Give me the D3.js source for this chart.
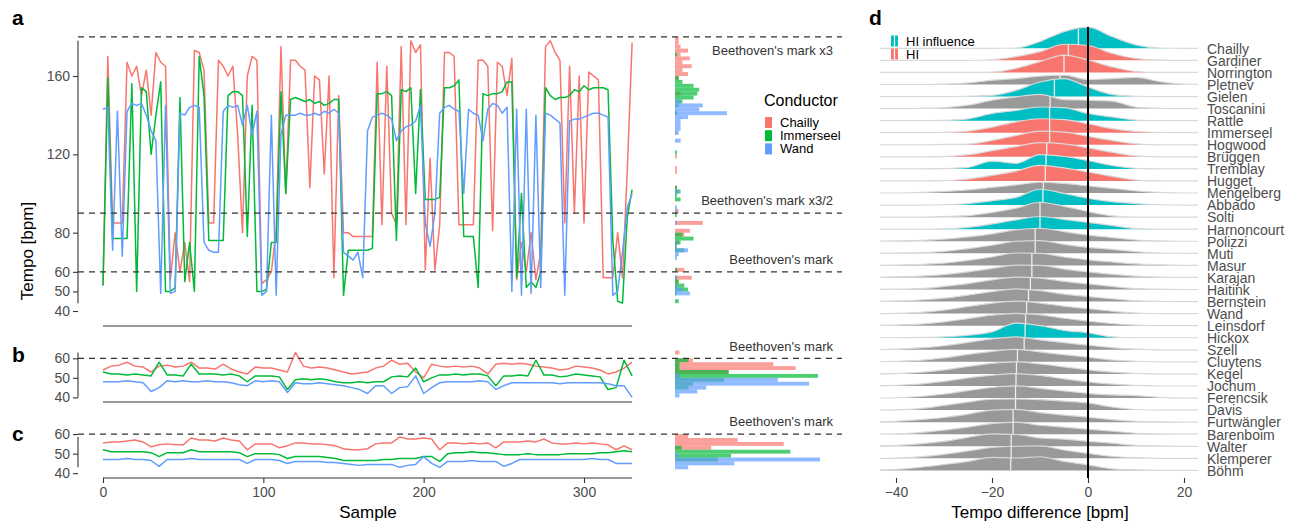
<!DOCTYPE html>
<html>
<head>
<meta charset="utf-8">
<script src="https://cdn.jsdelivr.net/npm/d3@7"></script>
<style>
  body { margin: 0; background: #fff; }
  text { font-family: "Liberation Sans", Arial, Helvetica, sans-serif; }
</style>
</head>
<body>
<svg id="chart" width="1302" height="523"></svg>
<script>
// ---- panel a-c: tempo per sample (a: every 3rd sample, b/c: every 5th) ----
const conductorsABC = ['Chailly', 'Immerseel', 'Wand'];
const conductorColors = ['#F8766D', '#00BA38', '#619CFF'];

const chaillyA = [53,170,85,85,85,167,160,165,150,163, 140,172,167,165,56,80,60,75,55,173,
  172,163,85,85,168,165,160,165,130,80, 160,170,168,54,56,60,81,175,100,168,
  168,165,163,103,160,158,110,160,57,150, 80,80,78,78,78,78,78,167,84,165,
  90,84,175,84,178,172,176,61,118,61, 84,172,172,170,84,84,84,84,168,168,
  165,81,167,165,150,169,56,75,60,80, 56,70,175,178,172,168,85,165,90,160,
  85,162,160,158,57,57,57,80,57,112,177];
const immerseelA = [53,159,77,77,77,77,156,50,154,152, 120,140,157,50,50,52,149,55,75,50,
  170,150,76,76,76,76,150,152,152,150, 78,145,50,50,51,75,75,152,100,148,
  149,148,147,148,146,147,145,146,148,148, 48,71,71,71,71,71,72,151,151,152,
  150,76,153,152,154,100,153,97,97,97, 98,154,154,155,158,78,78,78,52,151,
  150,151,151,152,157,157,57,100,52,55, 52,60,154,150,148,149,149,150,153,152,
  155,153,154,154,154,153,76,45,44,88,102];
const wandA = [143,144,71,142,68,142,146,145,146,140, 132,127,49,145,49,50,141,140,144,145,
  144,75,71,70,70,142,145,144,145,135, 145,130,142,48,50,140,48,130,140,140,
  140,141,140,140,141,140,142,141,143,141, 70,68,66,70,57,132,139,140,141,140,
  138,127,132,134,135,137,145,85,73,90, 141,144,145,143,142,100,143,141,140,127,
  143,146,145,141,144,50,143,48,143,49, 140,52,141,140,138,136,48,137,138,138,
  139,140,141,141,140,139,48,50,70,93,100];

const chaillyB = [54,56,56.5,58,56,55.5,53,56,56.5,55.5, 56,58,55,55,54.5,57,54.5,53,52,55.5,
  55,55,54,53,63,56,55,55.5,55,54, 53,52,52.5,53,55,56,59,57,57.5,53,
  50,57,56,55.5,56,55.5,56,55,52,57, 57.5,57,57.5,57,56,55.5,55,54,54.5,56,
  55.5,55,54,52,53,55,58];
const immerseelB = [53,52,52,51.5,52,51.5,51,58,51.5,51.5, 51,57,52,52,52,51.5,52,51,48,51,
  51,51,50.5,44,49,49.5,49,49.5,49,48, 47.5,47.5,48,47.5,48,48,50.5,51,50.5,55,
  48,50,51.5,51.5,52,51.5,52,52,51,46, 51,51,51.5,51,59,51.5,51.5,50.5,51,52,
  51.5,51,50.5,44,45,59,51];
const wandB = [48,48,48,48.5,48,47.5,43,45,48.5,48, 48.5,48,48,48.5,48,48,47.5,46.5,46,48.5,
  48,48.5,48,42.5,47.5,47,47,47.5,47,46.5, 46,45,44,42,46,46,42,45,45.5,51,
  42,45,47.5,48,48,48,48,48.5,48,44, 46,47.5,47.5,47.5,47.5,47.5,47.5,47,47.5,47.5,
  47.5,47.5,47.5,47,46,46,40];

const chaillyC = [55.5,56,56,56.5,57,56,53.5,54.5,55,54.5, 54.5,58,57,57,56.5,58,57,56.5,52,55,
  55,55,53,54,55.5,55.5,55,55,54.5,54, 52.5,52,52,52.5,55,55.5,55.5,58.5,57.5,57.5,
  58,57.5,52,55.5,55.5,55,55.5,55,55.5,53, 56,56,56,56.5,56,57.5,55.5,55,55,55.5,
  55,55.5,55,54.5,52,54,52];
const immerseelC = [52,51,51,51,51,51,50.5,48.5,50.5,50.5, 50.5,52,51,51,51,51,51,50.5,48.5,50,
  50,50,49.5,47.5,48.5,48.5,48.5,48.5,48,47.5, 46.5,46.5,46.5,46.5,46.5,47,47,47.5,47.5,47.5,
  48.5,48.5,46,50,50.5,50.5,51,50.5,50.5,50, 49.5,49.5,49.5,50,49.5,49.5,49.5,49.5,50,50,
  50,50,50.5,50.5,51,51.5,51];
const wandC = [47,47,47,47.5,47,47,46.5,43.5,47,47, 47,47.5,47,47,47,47,47,47,45,47,
  47,47,46.5,45,46,46,46,46,45.5,45.5, 45,44.5,44,44.5,44.5,44.5,44.5,43,44,44.5,
  48.5,45,43,46,46,46,46.5,46,46,46, 43.5,45,47,47,47,47,47,47,47,47,
  47,47.5,47,47,45,45,45];

const tempoTicksA = [40, 50, 60, 80, 120, 160];
const tempoTicksBC = [40, 50, 60];
const sampleTicks = [0, 100, 200, 300];
const marksA = [180, 90, 60];
const markLabelsA = ["Beethoven's mark x3", "Beethoven's mark x3/2", "Beethoven's mark"];

// ---- panel d: tempo difference densities (percent per bpm) ----
const ridgeNames = ['Chailly','Gardiner','Norrington','Pletnev','Gielen','Toscanini','Rattle',
  'Immerseel','Hogwood','Brüggen','Tremblay','Hugget','Mengelberg','Abbado','Solti',
  'Harnoncourt','Polizzi','Muti','Masur','Karajan','Haitink','Bernstein','Wand','Leinsdorf',
  'Hickox','Szell','Cluytens','Kegel','Jochum','Ferencsik','Davis','Furtwängler','Barenboim',
  'Walter','Klemperer','Böhm'];
const ridgeGroups = ['HI influence','HI','HI','none','HI influence','none','HI influence',
  'HI','HI','HI','HI influence','HI','none','HI influence','none',
  'HI influence','none','none','none','none','none','none','none','none',
  'HI influence','none','none','none','none','none','none','none','none',
  'none','none','none'];
const ridgeMedians = [-2,-4.1,-5,-5.8,-7, -7.9,-8,-8,-8,-8.6, -8.75,-8.9,-9.3,-9.4,-10,
  -10,-11,-11,-11.7,-11.7, -12,-12.4,-12.8,-13,-13.1, -13.3,-14.7,-14.9,-15,-15.1,
  -15.1,-15.6,-15.6,-16,-16, -16.1];
const densityGrid = [-45,-40,-35,-30,-25,-20,-15,-10,-5,0,5,10,15,20,25];
const ridgeDensity = [
  [0,0,0,0,0,0,0.1,2.2,5.4,6.8,3.8,1.1,0.1,0,0],          // Chailly
  [0,0,0,0,0,0.2,1.2,2.8,5.2,4.8,2.3,0.6,0.1,0,0],        // Gardiner
  [0,0,0,0,0,0.1,1.3,3.5,5.6,4.0,1.8,0.3,0,0,0],          // Norrington
  [0,0,0,0.1,0.5,1.4,1.9,2.7,3.0,1.6,1.9,2.3,0.9,0.1,0],  // Pletnev
  [0,0,0,0,0.1,0.4,2.0,4.7,5.8,3.1,0.7,0.1,0,0,0],        // Gielen
  [0,0,0.1,0.3,1.1,2.7,3.8,4.6,2.9,2.7,2.4,0.5,0.1,0,0],  // Toscanini
  [0,0,0,0.1,0.6,2.3,3.3,4.4,4.2,2.3,1.2,0.2,0,0,0],      // Rattle
  [0,0,0,0.1,0.5,1.8,3.5,4.5,4.2,2.9,1.3,0.4,0.1,0,0],    // Immerseel
  [0,0,0,0.1,0.2,1.4,3.0,4.4,4.1,2.7,1.4,0.3,0,0,0],      // Hogwood
  [0,0,0,0.1,0.7,2.0,3.3,4.6,4.2,2.9,1.5,0.3,0,0,0],      // Brüggen
  [0,0,0,0.1,0.5,2.5,1.8,4.6,4.0,2.7,1.1,0.2,0,0,0],      // Tremblay
  [0,0,0,0.1,0.6,1.8,3.2,5.0,4.2,2.9,1.5,0.3,0,0,0],      // Hugget
  [0,0,0.2,0.5,1.0,1.8,2.6,3.5,3.1,2.3,1.5,0.7,0.2,0,0],  // Mengelberg
  [0,0,0,0.1,0.5,1.4,2.5,5.1,3.8,2.2,1.1,0.5,0.1,0,0],    // Abbado
  [0,0,0,0.2,0.5,1.5,2.9,4.8,3.5,1.8,0.4,0,0,0,0],        // Solti
  [0,0,0,0.1,0.6,1.7,3.0,4.1,3.2,2.2,1.2,0.2,0,0,0],      // Harnoncourt
  [0,0.1,0.3,0.7,1.4,2.4,3.7,4.2,3.1,2.0,1.2,0.4,0.1,0,0],// Polizzi
  [0,0.1,0.2,0.6,1.5,2.6,3.9,4.1,2.9,1.9,1.3,0.5,0.1,0,0],// Muti
  [0,0.1,0.3,0.7,1.6,2.7,4.0,3.9,2.7,1.8,1.1,0.5,0.2,0,0],// Masur
  [0,0.2,0.4,0.9,1.8,2.9,4.0,3.9,2.7,1.8,1.0,0.4,0.1,0,0],// Karajan
  [0,0.1,0.3,1.0,1.9,3.1,4.0,3.7,2.6,1.8,1.0,0.3,0.1,0,0],// Haitink
  [0,0.2,0.5,1.1,2.1,3.2,4.1,3.5,2.4,1.6,0.9,0.3,0.1,0,0],// Bernstein
  [0,0.1,0.4,1.1,2.3,3.4,4.0,3.4,2.4,1.6,0.8,0.2,0,0,0],  // Wand
  [0,0.2,0.5,1.2,2.3,3.4,4.0,3.5,2.4,1.5,0.7,0.2,0,0,0],  // Leinsdorf
  [0,0,0.1,0.3,0.8,1.9,4.7,3.9,2.4,1.6,0.3,0,0,0,0],      // Hickox
  [0,0.2,0.6,1.3,2.4,3.5,4.2,3.2,2.3,1.5,0.7,0.2,0,0,0],  // Szell
  [0,0.2,0.5,1.3,2.4,3.4,4.0,3.2,2.3,1.5,0.6,0.2,0,0,0],  // Cluytens
  [0,0.1,0.5,1.3,2.4,3.4,3.9,3.2,2.3,1.3,0.6,0.2,0,0,0],  // Kegel
  [0,0.2,0.6,1.5,2.6,3.5,4.0,3.4,2.3,1.3,0.6,0.2,0,0,0],  // Jochum
  [0,0.1,0.5,1.3,2.4,3.4,3.9,3.1,2.3,1.5,1.0,0.8,0.2,0,0],// Ferencsik
  [0,0.1,0.5,1.5,2.6,3.5,3.6,3.4,2.9,2.3,1.0,0.2,0,0,0],  // Davis
  [0.1,0.3,0.8,1.5,2.6,3.9,4.1,3.1,2.3,1.6,0.8,0.3,0.1,0,0], // Furtwängler
  [0,0.1,0.5,1.3,2.3,3.4,3.9,2.9,2.3,1.6,1.0,0.3,0.1,0,0],// Barenboim
  [0.1,0.3,0.8,1.6,2.9,4.0,3.8,2.7,2.3,1.6,1.0,0.3,0.1,0,0], // Walter
  [0,0.1,0.5,1.3,2.4,3.5,3.9,4.0,2.7,1.6,0.6,0.2,0,0,0],  // Klemperer
  [0.1,0.3,1.0,1.9,2.9,4.2,4.0,4.4,2.9,1.8,0.5,0.2,0,0,0] // Böhm
];
const diffTicks = [-40, -20, 0, 20];
const groupColors = { 'HI influence': '#00BFC4', 'HI': '#F8766D', 'none': '#999999' };

const FONT = '"Liberation Sans", Arial, Helvetica, sans-serif';
const svg = d3.select('#chart');

// shared sample scale
const xS = d3.scaleLinear().domain([0, 300]).range([103, 584]);

function styleAxis(g) {
    g.select('.domain').remove();
    g.selectAll('.tick line').attr('stroke', '#333').attr('stroke-width', 1.1);
    g.selectAll('.tick text').attr('fill', '#4d4d4d').style('font-size', '14px').style('font-family', FONT);
}

function drawPanel(p) {
    const g = svg.append('g');
    const all = [].concat(...p.series);

    // y axis as range frame
    g.append('g')
        .attr('transform', 'translate(78,0)')
        .call(d3.axisLeft(p.y).tickValues(p.ticks).tickSize(5).tickPadding(3))
        .call(styleAxis);
    g.append('line')
        .attr('x1', 78).attr('x2', 78)
        .attr('y1', p.y(d3.max(all))).attr('y2', p.y(d3.min(all)))
        .attr('stroke', '#333').attr('stroke-width', 1.1);

    // x range frame
    const nMax = (p.series[0].length - 1) * p.step;
    g.append('line')
        .attr('x1', xS(0)).attr('x2', xS(nMax))
        .attr('y1', p.xAxisY).attr('y2', p.xAxisY)
        .attr('stroke', '#333').attr('stroke-width', 1.1);

    // series
    p.series.forEach((vals, k) => {
        const line = d3.line()
            .x((d, i) => xS(i * p.step))
            .y(d => p.y(d));
        g.append('path')
            .attr('d', line(vals))
            .attr('fill', 'none')
            .attr('stroke', conductorColors[k])
            .attr('stroke-width', 1.5)
            .attr('stroke-linejoin', 'round');
    });

    // marginal histograms
    const bin = d3.bin().domain(p.binDomain).thresholds(d3.range(p.binDomain[0], p.binDomain[1] + 0.01, p.binStep));
    const bins = p.series.map(vals => bin(vals));
    const maxCount = d3.max(bins, b => d3.max(b, d => d.length));
    const xH = d3.scaleLinear().domain([0, maxCount]).range([675, p.histMax]);
    bins.forEach((b, k) => {
        g.append('g').selectAll('rect')
            .data(b.filter(d => d.length > 0))
            .join('rect')
            .attr('x', 675)
            .attr('y', d => p.y(d.x1))
            .attr('width', d => xH(d.length) - 675)
            .attr('height', d => p.y(d.x0) - p.y(d.x1))
            .attr('fill', conductorColors[k])
            .attr('fill-opacity', 0.7);
    });

    // Beethoven's marks
    p.marks.forEach((m, i) => {
        g.append('line')
            .attr('x1', 78).attr('x2', 842)
            .attr('y1', p.y(m)).attr('y2', p.y(m))
            .attr('stroke', '#333').attr('stroke-width', 1.2)
            .attr('stroke-dasharray', '6,5');
    });
    p.labels.forEach(l => {
        g.append('text')
            .attr('x', 833).attr('y', l.y)
            .attr('text-anchor', 'end')
            .attr('fill', '#333')
            .style('font-size', '13px')
            .text(l.text);
    });
}

const yA = d3.scaleLinear().domain([40, 160]).range([311, 76]);
const yB = d3.scaleLinear().domain([40, 60]).range([397.4, 358.3]);
const yC = d3.scaleLinear().domain([40, 60]).range([473.2, 434.1]);

drawPanel({
    y: yA, series: [chaillyA, immerseelA, wandA], step: 3, ticks: tempoTicksA,
    xAxisY: 326, marks: marksA, binDomain: [40, 180], binStep: 2, histMax: 727,
    labels: [
        { text: markLabelsA[0], y: 55 },
        { text: markLabelsA[1], y: 205 },
        { text: markLabelsA[2], y: 264 }
    ]
});
drawPanel({
    y: yB, series: [chaillyB, immerseelB, wandB], step: 5, ticks: tempoTicksBC,
    xAxisY: 402, marks: [60], binDomain: [38, 66], binStep: 2, histMax: 818,
    labels: [{ text: markLabelsA[2], y: 350.5 }]
});
drawPanel({
    y: yC, series: [chaillyC, immerseelC, wandC], step: 5, ticks: tempoTicksBC,
    xAxisY: 478, marks: [60], binDomain: [38, 66], binStep: 2, histMax: 820,
    labels: [{ text: markLabelsA[2], y: 425.5 }]
});

// sample axis ticks under c
svg.append('g')
    .attr('transform', 'translate(0,478)')
    .call(d3.axisBottom(xS).tickValues(sampleTicks).tickSize(5).tickPadding(4))
    .call(styleAxis);

svg.append('text')
    .attr('x', 368).attr('y', 518)
    .attr('text-anchor', 'middle')
    .style('font-size', '17px')
    .text('Sample');
svg.append('text')
    .attr('transform', 'translate(33,251) rotate(-90)')
    .attr('text-anchor', 'middle')
    .style('font-size', '17px')
    .text('Tempo [bpm]');

// conductor legend
svg.append('text').attr('x', 764).attr('y', 106).style('font-size', '16px').text('Conductor');
conductorsABC.forEach((c, i) => {
    svg.append('rect')
        .attr('x', 765).attr('y', 117 + i * 13.2)
        .attr('width', 7).attr('height', 11)
        .attr('fill', conductorColors[i]);
    svg.append('text')
        .attr('x', 780).attr('y', 122.5 + i * 13.2)
        .attr('dy', '0.35em')
        .style('font-size', '13px')
        .text(c);
});

// ---- panel d ----
const xD = d3.scaleLinear().domain([-40, 20]).range([896, 1184]);
const yD = d3.scalePoint().domain(ridgeNames).range([48.3, 470.4]);
const hD = d3.scaleLinear().domain([0, 7]).range([0, 21.7]);

svg.append('defs').append('clipPath').attr('id', 'ridgeClip')
    .append('rect').attr('x', 880).attr('y', 0).attr('width', 318).attr('height', 480);

const ridges = svg.append('g').attr('clip-path', 'url(#ridgeClip)');

ridgeNames.forEach((name, k) => {
    const base = yD(name);
    const dens = ridgeDensity[k];
    const area = d3.area().curve(d3.curveMonotoneX)
        .x((d, i) => xD(densityGrid[i]))
        .y0(base)
        .y1(d => base - hD(d));
    const top = d3.line().curve(d3.curveMonotoneX)
        .x((d, i) => xD(densityGrid[i]))
        .y(d => base - hD(d));
    const g = ridges.append('g');
    g.append('path')
        .attr('d', area(dens))
        .attr('fill', groupColors[ridgeGroups[k]]);
    g.append('path')
        .attr('d', top(dens))
        .attr('fill', 'none')
        .attr('stroke', '#d9d9d9')
        .attr('stroke-width', 1.2);
    // median line
    const m = ridgeMedians[k];
    const j = d3.bisectRight(densityGrid, m) - 1;
    const t = (m - densityGrid[j]) / (densityGrid[j + 1] - densityGrid[j]);
    const hm = dens[j] + t * (dens[j + 1] - dens[j]);
    g.append('line')
        .attr('x1', xD(m)).attr('x2', xD(m))
        .attr('y1', base).attr('y2', base - hD(hm))
        .attr('stroke', '#eeeeee')
        .attr('stroke-width', 1.3);
});

// zero line
svg.append('line')
    .attr('x1', xD(0)).attr('x2', xD(0))
    .attr('y1', 27).attr('y2', 478)
    .attr('stroke', '#000').attr('stroke-width', 2);

// conductor names
svg.append('g').selectAll('text')
    .data(ridgeNames)
    .join('text')
    .attr('x', 1207)
    .attr('y', d => yD(d))
    .attr('dy', '0.38em')
    .attr('fill', '#4d4d4d')
    .style('font-size', '14px')
    .text(d => d);

svg.append('g')
    .attr('transform', 'translate(0,478)')
    .call(d3.axisBottom(xD).tickValues(diffTicks).tickSize(5).tickPadding(4).tickFormat(d3.format('d')))
    .call(styleAxis);

svg.append('text')
    .attr('x', 1040).attr('y', 518)
    .attr('text-anchor', 'middle')
    .style('font-size', '17px')
    .text('Tempo difference [bpm]');

// HI legend
['HI influence', 'HI'].forEach((grp, i) => {
    const y0 = 35.5 + i * 13;
    svg.append('rect')
        .attr('x', 891).attr('y', y0).attr('width', 7).attr('height', 11)
        .attr('fill', groupColors[grp]);
    svg.append('line')
        .attr('x1', 894.5).attr('x2', 894.5).attr('y1', y0).attr('y2', y0 + 11)
        .attr('stroke', '#fff').attr('stroke-width', 1.2);
    svg.append('text')
        .attr('x', 906).attr('y', y0 + 5.5).attr('dy', '0.35em')
        .style('font-size', '13px')
        .text(grp);
});

// panel tags
[['a', 12, 25], ['b', 12, 362], ['c', 12, 441], ['d', 869, 25]].forEach(([t, x, y]) => {
    svg.append('text')
        .attr('x', x).attr('y', y)
        .style('font-size', '21px')
        .style('font-weight', 'bold')
        .text(t);
});
</script>
</body>
</html>
